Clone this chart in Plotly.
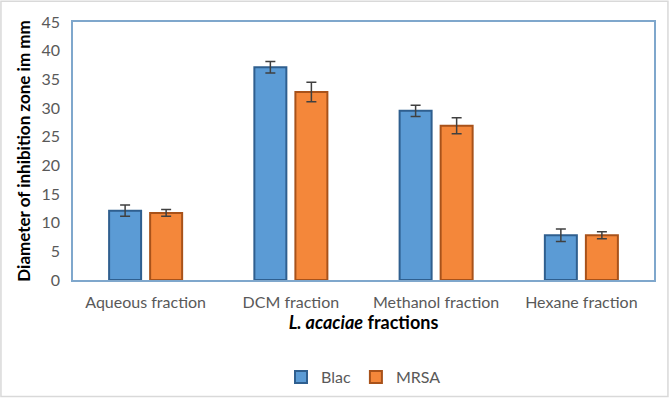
import plotly.graph_objects as go

categories = ["Aqueous fraction", "DCM fraction", "Methanol fraction", "Hexane fraction"]
blac = [12.1, 37.1, 29.5, 7.8]
blac_err = [1.0, 1.0, 1.0, 1.1]
mrsa = [11.7, 32.8, 26.9, 7.8]
mrsa_err = [0.6, 1.7, 1.4, 0.6]

font_family = "Lato, 'Open Sans', sans-serif"

fig = go.Figure()
fig.add_trace(go.Bar(
    name="Blac", x=categories, y=blac,
    marker=dict(color="#5b9bd5", line=dict(color="#2f5f8f", width=2)),
    error_y=dict(type="data", array=blac_err, color="#404040", thickness=1.5, width=5),
))
fig.add_trace(go.Bar(
    name="MRSA", x=categories, y=mrsa,
    marker=dict(color="#f4873a", line=dict(color="#a8521a", width=2)),
    error_y=dict(type="data", array=mrsa_err, color="#404040", thickness=1.5, width=5),
))

fig.update_layout(
    width=670, height=406,
    margin=dict(l=73, r=16, t=22, b=121),
    paper_bgcolor="white", plot_bgcolor="white",
    barmode="group", bargap=0.435, bargroupgap=0.22,
    font=dict(family=font_family, color="#595959", size=13),
    showlegend=True,
    legend=dict(orientation="h", x=0.5, xanchor="center", y=-0.31, yanchor="top",
                font=dict(size=16, color="#595959"), itemwidth=30, traceorder="normal"),
    xaxis=dict(
        automargin=False,
        showline=True, linecolor="#7fa7cc", linewidth=1.5, mirror=True,
        ticks="", ticklabelstandoff=7, tickfont=dict(size=16, color="#595959"),
        title=dict(text="<b><i>L. acaciae</i> fractions</b>", font=dict(size=18, color="#000000"), standoff=6),
    ),
    yaxis=dict(
        automargin=False,
        range=[0, 45], dtick=5, showgrid=False, zeroline=False,
        showline=True, linecolor="#7fa7cc", linewidth=1.5, mirror=True,
        ticks="", ticklabelstandoff=8, tickfont=dict(size=16, color="#595959"),
        title=dict(text="<b>Diameter of inhibition zone im mm</b>", font=dict(size=17, color="#000000"), standoff=7),
    ),
    shapes=[dict(type="rect", xref="paper", yref="paper", x0=-0.124, x1=1.024, y0=-0.452, y1=1.08,
                 line=dict(color="#d9d9d9", width=1.5))],
)

fig.write_html(
    "out.html", config={"displayModeBar": False},
    post_script=(
        "document.documentElement.style.overflow='hidden';"
        "document.documentElement.style.height='406px';"
        "document.body.style.margin='0';"
        "document.body.style.overflow='hidden';"
        "document.body.style.height='406px';"
    ),
)
